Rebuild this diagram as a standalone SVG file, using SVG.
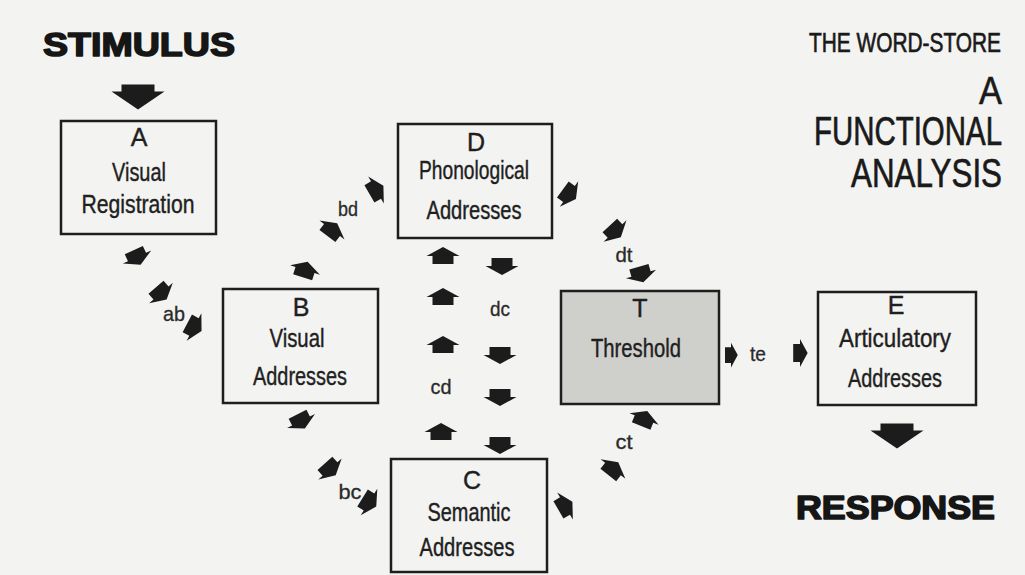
<svg xmlns="http://www.w3.org/2000/svg" xmlns:xlink="http://www.w3.org/1999/xlink" width="1025" height="575" viewBox="0 0 1025 575">
<style>
.box{fill:none;stroke:#1e1e1e;stroke-width:2.5}
.shade{fill:#cfcfcc;stroke:#1e1e1e;stroke-width:2.5}
.t{font-family:"Liberation Sans Narrow","Liberation Sans",Arial,sans-serif;font-size:25px;fill:#1f1f1f;stroke:#1f1f1f;stroke-width:0.4;text-anchor:middle}
.lbl{font-family:"Liberation Sans Narrow","Liberation Sans",Arial,sans-serif;font-size:21px;fill:#2a2a2a;stroke:#2a2a2a;stroke-width:0.3;text-anchor:middle}
.big{font-family:"Liberation Sans",Arial,sans-serif;font-weight:bold;font-size:33px;fill:#161616;stroke:#161616;stroke-width:1.6;stroke-linejoin:round}
.head{font-family:"Liberation Sans",Arial,sans-serif;fill:#1a1a1a;stroke:#1a1a1a;stroke-width:0.5}
.arr{fill:#1c1c1c}
</style>
<defs>
<path id="a" d="M9,0 L0,-16.5 L0,-10.5 L-8,-10.5 L-8,10.5 L0,10.5 L0,16.5 Z"/>
<path id="bigdown" d="M-16.5,-12.5 L16.5,-12.5 L16.5,-5.5 L26.5,-5.5 L0,12.5 L-26.5,-5.5 L-16.5,-5.5 Z"/>
</defs>
<rect x="0" y="0" width="1025" height="575" fill="#f3f3f1"/>

<g id="titles">
<text class="big" x="43" y="56" textLength="192" lengthAdjust="spacingAndGlyphs">STIMULUS</text>
<text class="big" x="796" y="519" textLength="199" lengthAdjust="spacingAndGlyphs">RESPONSE</text>
<text class="head" transform="translate(809,52) scale(1,1.34)" x="0" y="0" font-size="20.5" textLength="192" lengthAdjust="spacingAndGlyphs">THE WORD-STORE</text>
<text class="head" transform="translate(979,104) scale(1,1.2)" x="0" y="0" font-size="33" textLength="23" lengthAdjust="spacingAndGlyphs">A</text>
<text class="head" transform="translate(814,145) scale(1,1.42)" x="0" y="0" font-size="29" textLength="188" lengthAdjust="spacingAndGlyphs">FUNCTIONAL</text>
<text class="head" transform="translate(851,187) scale(1,1.36)" x="0" y="0" font-size="30.5" textLength="151" lengthAdjust="spacingAndGlyphs">ANALYSIS</text>
</g>

<g id="node-A">
<rect class="box" x="61" y="121" width="155" height="113"/>
<text class="t" x="139" y="146">A</text>
<text class="t" x="139" y="181" textLength="54" lengthAdjust="spacingAndGlyphs">Visual</text>
<text class="t" x="138" y="213" textLength="113" lengthAdjust="spacingAndGlyphs">Registration</text>
</g>

<g id="node-D">
<rect class="box" x="398" y="124" width="154" height="114"/>
<text class="t" x="476" y="151">D</text>
<text class="t" x="474" y="179" textLength="110" lengthAdjust="spacingAndGlyphs">Phonological</text>
<text class="t" x="474" y="219" textLength="95" lengthAdjust="spacingAndGlyphs">Addresses</text>
</g>

<g id="node-B">
<rect class="box" x="223" y="289" width="155" height="114"/>
<text class="t" x="301" y="316">B</text>
<text class="t" x="297" y="347" textLength="55" lengthAdjust="spacingAndGlyphs">Visual</text>
<text class="t" x="300" y="385" textLength="94" lengthAdjust="spacingAndGlyphs">Addresses</text>
</g>

<g id="node-T">
<rect class="shade" x="561" y="291" width="158" height="113"/>
<text class="t" x="640" y="317">T</text>
<text class="t" x="636" y="357" textLength="90" lengthAdjust="spacingAndGlyphs">Threshold</text>
</g>

<g id="node-E">
<rect class="box" x="818" y="292" width="158" height="113"/>
<text class="t" x="896" y="314">E</text>
<text class="t" x="895" y="347" textLength="112" lengthAdjust="spacingAndGlyphs">Articulatory</text>
<text class="t" x="895" y="387" textLength="94" lengthAdjust="spacingAndGlyphs">Addresses</text>
</g>

<g id="node-C">
<rect class="box" x="391" y="459" width="156" height="113"/>
<text class="t" x="472" y="489">C</text>
<text class="t" x="469" y="521" textLength="83" lengthAdjust="spacingAndGlyphs">Semantic</text>
<text class="t" x="467" y="556" textLength="95" lengthAdjust="spacingAndGlyphs">Addresses</text>
</g>

<g id="connectors" class="arr">
<use href="#bigdown" transform="translate(138,97)"/>
<use href="#bigdown" transform="translate(897,436)"/>
<use href="#a" transform="translate(137,257) rotate(65) scale(0.95)"/>
<use href="#a" transform="translate(161,293) rotate(49) scale(0.95)"/>
<use href="#a" transform="translate(194,327) rotate(28) scale(0.95)"/>
<use href="#a" transform="translate(305,270) rotate(-72) scale(0.95)"/>
<use href="#a" transform="translate(332,230) rotate(-53) scale(0.95)"/>
<use href="#a" transform="translate(376,190) rotate(-30) scale(0.95)"/>
<use href="#a" transform="translate(569,194) rotate(36) scale(0.95)"/>
<use href="#a" transform="translate(615,231) rotate(47) scale(0.95)"/>
<use href="#a" transform="translate(641,274) rotate(74) scale(0.95)"/>
<use href="#a" transform="translate(301,421) rotate(63) scale(0.95)"/>
<use href="#a" transform="translate(330,469) rotate(48) scale(0.95)"/>
<use href="#a" transform="translate(369,502) rotate(32) scale(0.95)"/>
<use href="#a" transform="translate(565,506) rotate(-30) scale(0.95)"/>
<use href="#a" transform="translate(613,469) rotate(-52) scale(0.95)"/>
<use href="#a" transform="translate(644,419) rotate(-68) scale(0.95)"/>
<use href="#a" transform="translate(443,256) rotate(-90)"/>
<use href="#a" transform="translate(443,297) rotate(-90)"/>
<use href="#a" transform="translate(443,345) rotate(-90)"/>
<use href="#a" transform="translate(441,432) rotate(-90)"/>
<use href="#a" transform="translate(502,266) rotate(90)"/>
<use href="#a" transform="translate(500,355) rotate(90)"/>
<use href="#a" transform="translate(500,397) rotate(90)"/>
<use href="#a" transform="translate(500,445) rotate(90)"/>
<use href="#a" transform="translate(731,355) scale(0.75)"/>
<use href="#a" transform="translate(800,353) scale(0.85)"/>
<text class="lbl" x="174" y="321" textLength="22" lengthAdjust="spacingAndGlyphs">ab</text>
<text class="lbl" x="348" y="216" textLength="20" lengthAdjust="spacingAndGlyphs">bd</text>
<text class="lbl" x="500" y="316" textLength="20" lengthAdjust="spacingAndGlyphs">dc</text>
<text class="lbl" x="441" y="394" textLength="21" lengthAdjust="spacingAndGlyphs">cd</text>
<text class="lbl" x="624" y="262" textLength="17" lengthAdjust="spacingAndGlyphs">dt</text>
<text class="lbl" x="624" y="449" textLength="17" lengthAdjust="spacingAndGlyphs">ct</text>
<text class="lbl" x="758" y="361" textLength="16" lengthAdjust="spacingAndGlyphs">te</text>
<text class="lbl" x="350" y="499" textLength="23" lengthAdjust="spacingAndGlyphs">bc</text>
</g>
</svg>
